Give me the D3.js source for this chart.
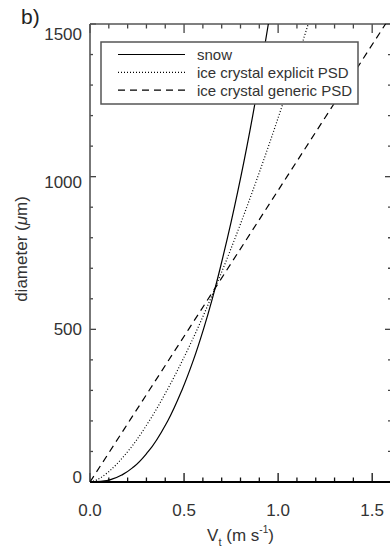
<!DOCTYPE html>
<html>
<head>
<meta charset="utf-8">
<script src="https://cdnjs.cloudflare.com/ajax/libs/d3/7.8.5/d3.min.js"></script>
<style>
  body { margin: 0; background: #fff; }
  svg { display: block; font-family: "Liberation Sans", Arial, sans-serif; }
</style>
</head>
<body>
<div id="chart"></div>
<script>
var snowD = [0, 5, 10, 25, 50, 100, 200, 300, 400, 500, 600, 700, 800, 1000, 1200, 1400, 1500];
var snowV = [0, 0.09, 0.12, 0.175, 0.233, 0.31, 0.413, 0.488, 0.55, 0.603, 0.65, 0.692, 0.731, 0.802, 0.865, 0.921, 0.948];

var explicitD = [0, 5, 10, 25, 50, 100, 200, 300, 400, 500, 600, 700, 800, 1000, 1200, 1400, 1500];
var explicitV = [0, 0.029, 0.045, 0.082, 0.128, 0.201, 0.315, 0.409, 0.493, 0.57, 0.641, 0.708, 0.772, 0.892, 1.004, 1.109, 1.16];

var genericD = [0, 500, 1000, 1500];
var genericV = [0, 0.524, 1.047, 1.571];

var seriesNames = ['snow', 'ice crystal explicit PSD', 'ice crystal generic PSD'];
var xTicks = [0, 0.5, 1.0, 1.5];
var yTicks = [0, 500, 1000, 1500];

var width = 390, height = 553;
var margin = {top: 24, right: -1, bottom: 71, left: 90};
var plotW = width - margin.left - margin.right,
    plotH = height - margin.top - margin.bottom;

var svg = d3.select('#chart').append('svg')
    .attr('width', width)
    .attr('height', height);

var x = d3.scaleLinear().domain([0, 1.6]).range([0, plotW]);
var y = d3.scaleLinear().domain([0, 1500]).range([plotH, 0]);
// tick labels in the original sit slightly pulled in toward the middle
var yLab = d3.scaleLinear().domain([0, 1500]).range([plotH - 5, 10]);

var g = svg.append('g')
    .attr('transform', 'translate(' + margin.left + ',' + margin.top + ')');

var defs = svg.append('defs');
defs.append('clipPath').attr('id', 'clip')
    .append('rect').attr('width', plotW).attr('height', plotH);

// frame + ticks (IDL style, ticks on all four sides pointing in)
var xMajLen = 9, xMinLen = 4.5, yMajLen = 6, yMinLen = 3;
var xMinor = d3.range(0, 1.61, 0.1), yMinor = d3.range(0, 1501, 100);

function xTick(v, major, atTop) {
    var len = major ? xMajLen : xMinLen;
    var y0 = atTop ? 0 : plotH;
    g.append('line')
        .attr('x1', x(v)).attr('x2', x(v))
        .attr('y1', y0).attr('y2', atTop ? y0 + len : y0 - len)
        .attr('stroke', atTop ? '#444' : '#111').attr('stroke-width', 1.3);
}
function yTick(v, major, atRight) {
    var len = major ? yMajLen : yMinLen;
    var x0 = atRight ? plotW : 0;
    g.append('line')
        .attr('y1', y(v)).attr('y2', y(v))
        .attr('x1', x0).attr('x2', atRight ? x0 - len : x0 + len)
        .attr('stroke', '#444').attr('stroke-width', 1.3);
}
xMinor.forEach(function (v) {
    var major = xTicks.some(function (t) { return Math.abs(t - v) < 1e-6; });
    xTick(v, major, false);
    xTick(v, major, true);
});
yMinor.forEach(function (v) {
    var major = yTicks.indexOf(v) >= 0;
    yTick(v, major, false);
    yTick(v, major, true);
});

g.append('line').attr('x1', 0).attr('x2', plotW).attr('y1', 0).attr('y2', 0)
    .attr('stroke', '#555').attr('stroke-width', 1.6);
g.append('line').attr('x1', 0).attr('x2', 0).attr('y1', 0).attr('y2', plotH)
    .attr('stroke', '#555').attr('stroke-width', 1.6);
g.append('line').attr('x1', plotW).attr('x2', plotW).attr('y1', 0).attr('y2', plotH)
    .attr('stroke', '#555').attr('stroke-width', 1.6);
g.append('line').attr('x1', 0).attr('x2', plotW).attr('y1', plotH).attr('y2', plotH)
    .attr('stroke', '#000').attr('stroke-width', 2);

// tick labels
g.selectAll('.xlab').data(xTicks).enter().append('text')
    .attr('class', 'xlab')
    .attr('x', function (d) { return x(d); })
    .attr('y', plotH + 34)
    .attr('text-anchor', 'middle')
    .attr('font-size', 17)
    .attr('fill', '#333')
    .text(function (d) { return d3.format('.1f')(d); });

g.selectAll('.ylab').data(yTicks).enter().append('text')
    .attr('class', 'ylab')
    .attr('x', -8)
    .attr('y', function (d) { return yLab(d); })
    .attr('dy', '0.36em')
    .attr('text-anchor', 'end')
    .attr('font-size', 17)
    .attr('fill', '#333')
    .text(function (d) { return d; });

// curves
var line = d3.line()
    .x(function (d) { return x(d[0]); })
    .y(function (d) { return y(d[1]); })
    .curve(d3.curveMonotoneY);

var curves = [
    {pts: d3.zip(snowV, snowD), dash: null, w: 1.2},
    {pts: d3.zip(explicitV, explicitD), dash: '1,2', w: 1.2},
    {pts: d3.zip(genericV, genericD), dash: '7,5', w: 1.2}
];

g.append('g').attr('clip-path', 'url(#clip)')
    .selectAll('path').data(curves).enter().append('path')
    .attr('d', function (d) { return line(d.pts); })
    .attr('fill', 'none')
    .attr('stroke', '#000')
    .attr('stroke-width', function (d) { return d.w; })
    .attr('stroke-dasharray', function (d) { return d.dash; });

// legend
var legend = svg.append('g').attr('transform', 'translate(101,42)');
legend.append('rect')
    .attr('width', 257).attr('height', 62)
    .attr('fill', '#fff')
    .attr('stroke', '#555').attr('stroke-width', 1.5);

var rows = legend.selectAll('.row').data(seriesNames).enter().append('g')
    .attr('class', 'row')
    .attr('transform', function (d, i) { return 'translate(0,' + (12.5 + i * 17.8) + ')'; });
rows.append('line')
    .attr('x1', 17).attr('x2', 84)
    .attr('stroke', '#000').attr('stroke-width', 1.2)
    .attr('stroke-dasharray', function (d, i) { return curves[i].dash; });
rows.append('text')
    .attr('x', 96).attr('y', 5.5)
    .attr('font-size', 15)
    .attr('fill', '#333')
    .text(function (d) { return d; });

// axis titles
var xt = svg.append('text')
    .attr('x', margin.left + x(0.8)).attr('y', 541)
    .attr('text-anchor', 'middle')
    .attr('font-size', 17)
    .attr('fill', '#333');
xt.append('tspan').text('V');
xt.append('tspan').attr('font-size', 11).attr('dy', 5).text('t');
xt.append('tspan').attr('dy', -5).text(' (m s');
xt.append('tspan').attr('font-size', 10).attr('dy', -8).text('-1');
xt.append('tspan').attr('dy', 8).text(')');

var yt = svg.append('text')
    .attr('transform', 'translate(27,249) rotate(-90)')
    .attr('text-anchor', 'middle')
    .attr('font-size', 17)
    .attr('fill', '#333');
yt.append('tspan').text('diameter (');
yt.append('tspan').attr('font-style', 'italic').text('\u03bc');
yt.append('tspan').text('m)');

svg.append('text')
    .attr('x', 21).attr('y', 24)
    .attr('font-size', 21)
    .attr('fill', '#222')
    .text('b)');
</script>
</body>
</html>
